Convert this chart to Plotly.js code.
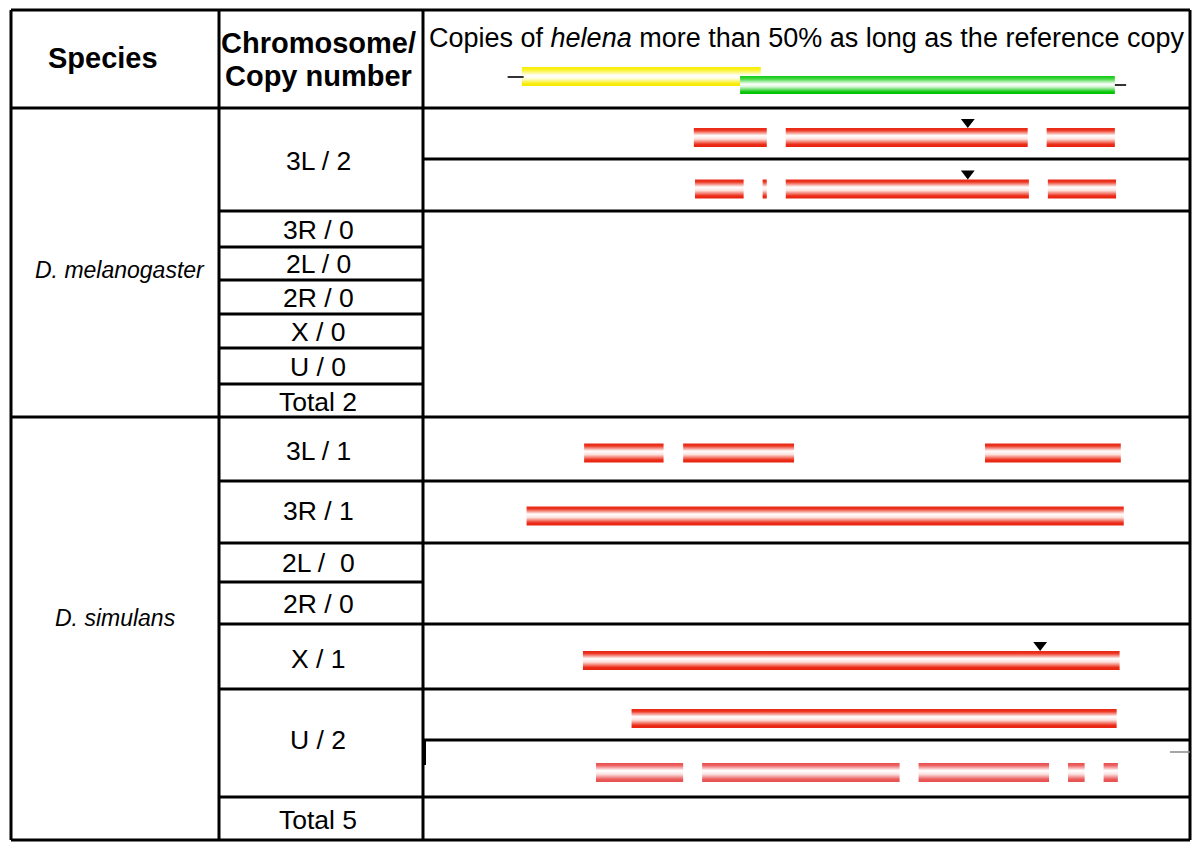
<!DOCTYPE html>
<html>
<head>
<meta charset="utf-8">
<script src="https://cdn.plot.ly/plotly-3.0.1.min.js"></script>
<style>html,body{margin:0;padding:0;background:#fff;}#chart{width:1200px;height:850px;}</style>
</head>
<body>
<div id="chart"></div>
<script>
// ---------------- DATA (positions along helena, % of reference copy length) ----------------
const species = ['D. melanogaster', 'D. simulans'];
const melRowLabels = ['3L / 2', '3R / 0', '2L / 0', '2R / 0', 'X / 0', 'U / 0', 'Total 2'];
const simRowLabels = ['3L / 1', '3R / 1', '2L /  0', '2R / 0', 'X / 1', 'U / 2', 'Total 5'];
const headerSpecies = 'Species';
const headerChrom = ['Chromosome/', 'Copy number'];
const headerCopies = 'Copies of <i>helena</i> more than 50% as long as the reference copy';

// reference copy (two overlapping parts)
const refYellow = [0, 40.3];
const refGreen = [36.8, 100];
const refLeftTick = [-2.4, 0.3];
const refRightTick = [100, 101.9];

// copies: segment starts / ends, insertion markers
const mel3La_start = [29.0, 44.5, 88.5];
const mel3La_end   = [41.3, 85.3, 100.0];
const mel3La_tri   = [75.2];
const mel3Lb_start = [29.2, 40.6, 44.5, 88.7];
const mel3Lb_end   = [37.4, 41.3, 85.5, 100.2];
const mel3Lb_tri   = [75.2];
const sim3L_start = [10.5, 27.2, 78.1];
const sim3L_end   = [23.9, 45.9, 101.0];
const sim3R_start = [0.8];
const sim3R_end   = [101.5];
const simX_start = [10.3];
const simX_end   = [100.8];
const simX_tri   = [87.4];
const simUa_start = [18.5];
const simUa_end   = [100.3];
const simUb_start = [12.5, 30.4, 66.9, 92.1, 98.1];
const simUb_end   = [27.2, 63.7, 88.9, 94.9, 100.5];

// ---------------- LAYOUT GEOMETRY (page pixels) ----------------
const W = 1200, H = 850;
const px = x => x / W;
const py = y => 1 - y / H;

const RED = [[0,'rgb(232,40,20)'],[0.12,'rgb(236,50,30)'],[0.4,'rgb(255,255,255)'],[0.58,'rgb(253,225,220)'],[0.86,'rgb(236,45,25)'],[1,'rgb(230,35,15)']];
const PINK = [[0,'rgb(232,80,80)'],[0.12,'rgb(236,95,95)'],[0.4,'rgb(255,255,255)'],[0.58,'rgb(252,228,228)'],[0.86,'rgb(234,90,90)'],[1,'rgb(230,80,80)']];
const YEL = [[0,'rgb(248,236,0)'],[0.15,'rgb(250,242,40)'],[0.45,'rgb(255,255,255)'],[0.6,'rgb(255,255,225)'],[0.88,'rgb(248,236,10)'],[1,'rgb(245,232,0)']];
const GRN = [[0,'rgb(20,200,20)'],[0.15,'rgb(60,215,60)'],[0.45,'rgb(255,255,255)'],[0.6,'rgb(215,245,215)'],[0.88,'rgb(10,200,10)'],[1,'rgb(0,190,0)']];

function rectTrace(starts, ends, yTop, yBot, scale) {
  const xs = [], ys = [];
  for (let i = 0; i < starts.length; i++) {
    xs.push(starts[i], ends[i], ends[i], starts[i], starts[i], null);
    ys.push(yTop, yTop, yBot, yBot, yTop, null);
  }
  return {
    type: 'scatter', mode: 'lines', x: xs, y: ys, fill: 'toself',
    line: {width: 0, color: 'rgba(0,0,0,0)'},
    fillgradient: {type: 'vertical', colorscale: scale, start: yTop, stop: yBot},
    hoverinfo: 'skip', connectgaps: false
  };
}
function triTrace(xs, y) {
  return {type: 'scatter', mode: 'markers', x: xs, y: xs.map(() => y),
    marker: {symbol: 'triangle-down', size: 12, color: '#000'}, hoverinfo: 'skip'};
}

// cells for each copy track [top, bottom]
const tracks = [
  {s: mel3La_start, e: mel3La_end, tri: mel3La_tri, cell: [108,159], scale: RED},
  {s: mel3Lb_start, e: mel3Lb_end, tri: mel3Lb_tri, cell: [159,211], scale: RED},
  {s: sim3L_start, e: sim3L_end, tri: null, cell: [417,481], scale: RED},
  {s: sim3R_start, e: sim3R_end, tri: null, cell: [481,543], scale: RED},
  {s: simX_start, e: simX_end, tri: simX_tri, cell: [624,689], scale: RED},
  {s: simUa_start, e: simUa_end, tri: null, cell: [689,740], scale: RED},
  {s: simUb_start, e: simUb_end, tri: null, cell: [740,797], scale: PINK}
];

const traces = [];
// reference copy
traces.push(rectTrace([refYellow[0]], [refYellow[1]], 67, 86, YEL));
traces.push(rectTrace([refGreen[0]], [refGreen[1]], 76, 94, GRN));
traces.push({type:'scatter', mode:'lines', x: refLeftTick, y:[77,77], line:{color:'#000', width:1.6}, hoverinfo:'skip'});
traces.push({type:'scatter', mode:'lines', x: refRightTick, y:[85,85], line:{color:'#000', width:1.6}, hoverinfo:'skip'});

tracks.forEach(t => {
  const c = (t.cell[0] + t.cell[1]) / 2 + 4;
  const top = c - 9.5, bot = c + 9.5;
  traces.push(rectTrace(t.s, t.e, top, bot, t.scale));
  if (t.tri) traces.push(triTrace(t.tri, top - 6));
});

// table lines
const LW = 3;
function hline(y, x0, x1, w, col) {
  return {type:'line', xref:'paper', yref:'paper', x0: px(x0), x1: px(x1), y0: py(y), y1: py(y), line:{color: col || '#000', width: w || LW}};
}
function vline(x, y0, y1, w, col) {
  return {type:'line', xref:'paper', yref:'paper', x0: px(x), x1: px(x), y0: py(y0), y1: py(y1), line:{color: col || '#000', width: w || LW}};
}
const L = 11, R = 1190, T = 10, B = 840, C1 = 219, C2 = 423;
const shapes = [
  hline(T, L, R), hline(B, L, R), vline(L, T, B), vline(R, T, B),
  vline(C1, T, B), vline(C2, T, B),
  hline(108, L, R), hline(417, L, R),
];
[247, 280, 314, 348, 384, 582].forEach(y => shapes.push(hline(y, C1, C2)));
[211, 481, 543, 624, 689, 797].forEach(y => shapes.push(hline(y, C1, R)));
[159, 740].forEach(y => shapes.push(hline(y, C2, R)));
shapes.push(vline(424, 741, 765, 4));
shapes.push(hline(752, 1170, 1190, 1.5, '#888'));

// text
const FONT = 'Liberation Sans, Arial, sans-serif';
function ann(text, x, y, size, opts) {
  return Object.assign({xref:'paper', yref:'paper', x: px(x), y: py(y), text: text, showarrow:false,
    xanchor:'center', yanchor:'middle', font:{family: FONT, size: size, color:'#000'}}, opts || {});
}
const melY = [161, 230, 264, 298, 332, 367, 402];
const simY = [451, 511, 563, 604, 659, 740, 820];
const annotations = [
  ann('<b>' + headerSpecies + '</b>', 103, 58, 29),
  ann('<b>' + headerChrom[0] + '</b>', 318, 43, 29),
  ann('<b>' + headerChrom[1] + '</b>', 318, 76, 29),
  ann(headerCopies, 806, 38, 27),
  ann('<i>' + species[0] + '</i>', 120, 270, 23),
  ann('<i>' + species[1] + '</i>', 115, 618, 23),
];
melRowLabels.forEach((t, i) => annotations.push(ann(t, 318, melY[i], 26.5)));
simRowLabels.forEach((t, i) => annotations.push(ann(t, 318, simY[i], 26.5)));

const layout = {
  width: W, height: H, margin: {l:0, r:0, t:0, b:0, pad:0},
  paper_bgcolor: '#fff', plot_bgcolor: 'rgba(0,0,0,0)', showlegend: false,
  xaxis: {domain: [424/W, 1189/W], range: [-16.5, 112.5], visible: false, fixedrange: true},
  yaxis: {domain: [0, 1], range: [H, 0], visible: false, fixedrange: true},
  shapes: shapes, annotations: annotations
};
Plotly.newPlot('chart', traces, layout, {staticPlot: true, displayModeBar: false});
</script>
</body>
</html>
